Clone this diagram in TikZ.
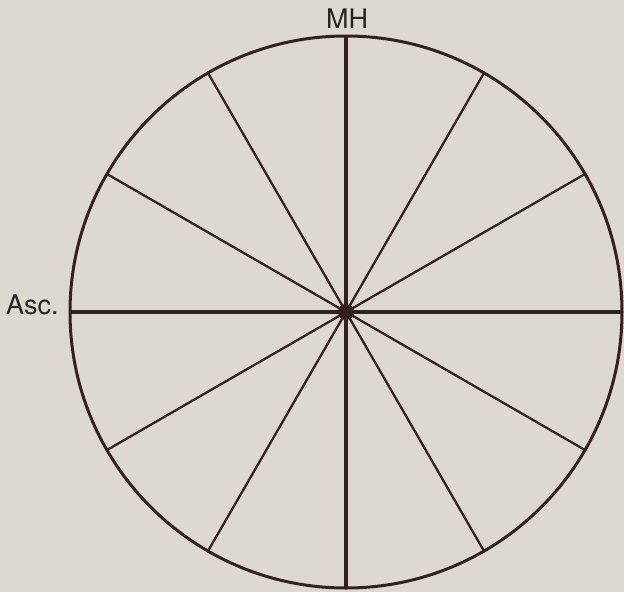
\documentclass[tikz,border=0pt]{standalone}
\usepackage{fontspec}
\setmainfont{TeX Gyre Heros}
\definecolor{paper}{RGB}{221,217,207}
\definecolor{ink}{RGB}{50,34,28}
\definecolor{textink}{RGB}{40,34,32}
\begin{document}
\begin{tikzpicture}[x=1pt,y=-1pt,
  spoke/.style={draw=ink,line width=2.3pt},
  axis/.style={draw=ink,line width=3.4pt},
  rim/.style={draw=ink,line width=3pt},
  lbl/.style={text=textink,font=\fontsize{27}{27}\selectfont,inner sep=0pt}]
\fill[paper] (0,0) rectangle (624,592);
\useasboundingbox (0,0) rectangle (624,592);
\coordinate (c) at (346,312);
\foreach \a in {30,60,120,150,210,240,300,330}{
  \draw[spoke] (c) -- ++(\a:276);
}
\draw[axis] (c) -- ++(0:276);
\draw[axis] (c) -- ++(180:276);
\draw[axis] (c) -- ++(90:276);
\draw[axis] (c) -- ++(270:276);
\draw[rim] (c) circle[radius=276];
\fill[ink] (c) circle[radius=8];
\node[lbl,anchor=base] (mh) at (347,28) {MH};
\node[lbl,anchor=base west] (asc) at (6,314) {Asc.};
\end{tikzpicture}
\end{document}
